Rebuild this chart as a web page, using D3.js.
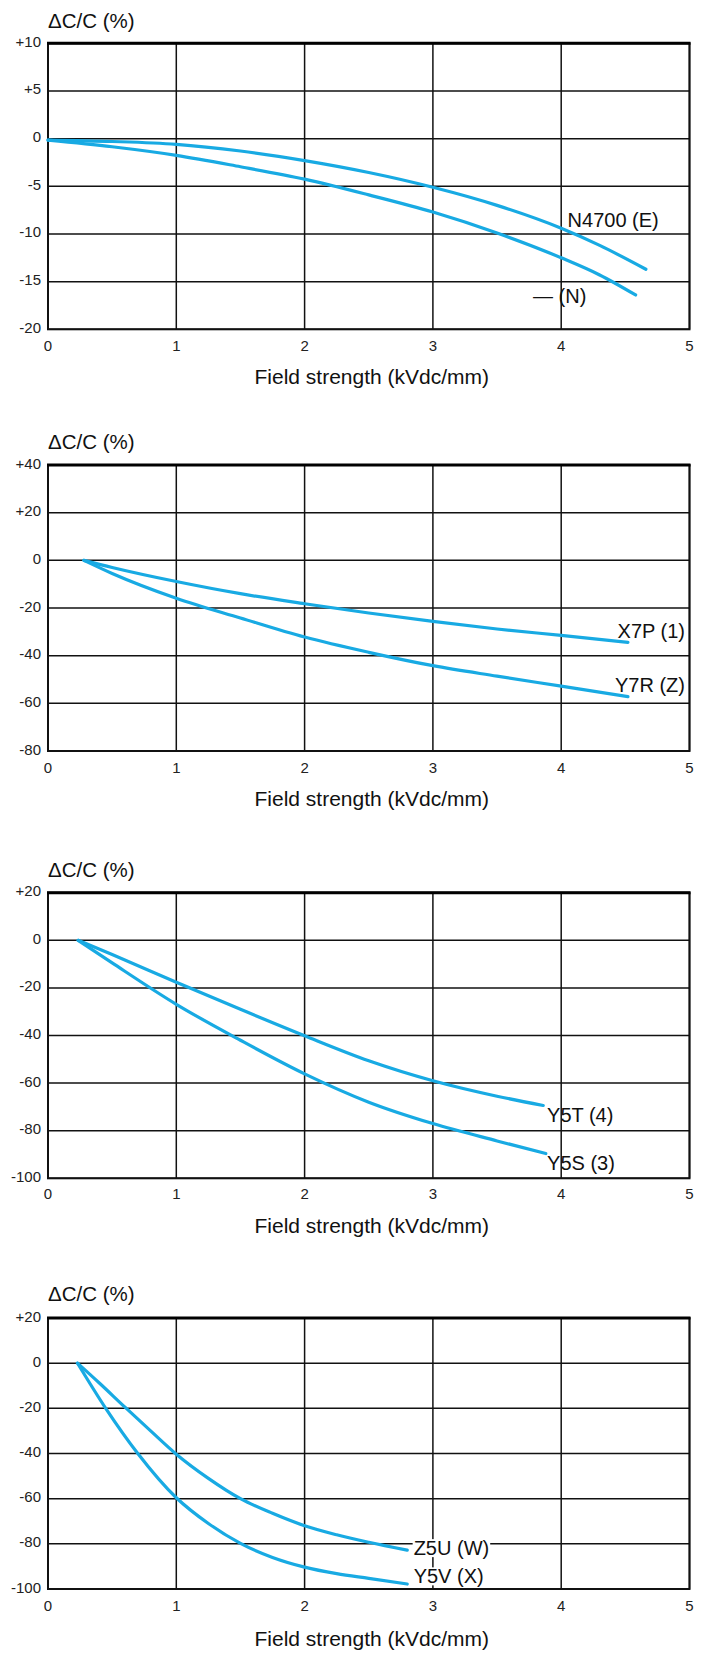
<!DOCTYPE html>
<html><head><meta charset="utf-8">
<script src="https://cdn.jsdelivr.net/npm/d3@7"></script>
<style>html,body{margin:0;padding:0;background:#fff;} svg{display:block;}</style>
</head><body>
<svg id="c" width="707" height="1658"></svg>
<script>
// ---------- data ----------
const xTicks = [0, 1, 2, 3, 4, 5];
const xTickLabels = ["0", "1", "2", "3", "4", "5"];
const yAxisTitle = "\u0394C/C (%)";
const xAxisTitle = "Field strength (kVdc/mm)";

// Chart 1
const c1YTicks = [10, 5, 0, -5, -10, -15, -20];
const c1YLabels = ["+10", "+5", "0", "-5", "-10", "-15", "-20"];
const c1E_x = [0, 0.5, 1, 1.5, 2, 2.5, 3, 3.5, 4, 4.3, 4.66];
const c1E_y = [-0.15, -0.3, -0.6, -1.3, -2.3, -3.55, -5.1, -7.0, -9.4, -11.2, -13.7];
const c1N_x = [0, 0.5, 1, 1.5, 2, 2.5, 3, 3.5, 4, 4.3, 4.58];
const c1N_y = [-0.15, -0.85, -1.75, -2.95, -4.25, -5.9, -7.7, -9.9, -12.5, -14.3, -16.4];

// Chart 2
const c2YTicks = [40, 20, 0, -20, -40, -60, -80];
const c2YLabels = ["+40", "+20", "0", "-20", "-40", "-60", "-80"];
const c2X7P_x = [0.28, 0.5, 1, 1.5, 2, 2.5, 3, 3.5, 4, 4.52];
const c2X7P_y = [0, -3.0, -8.9, -14, -18.2, -22.1, -25.6, -28.8, -31.5, -34.4];
const c2Y7R_x = [0.28, 0.5, 1, 1.5, 2, 2.5, 3, 3.5, 4, 4.52];
const c2Y7R_y = [0, -5.5, -15.9, -24.2, -32.2, -38.6, -44.2, -48.6, -52.8, -57.2];

// Chart 3
const c3YTicks = [20, 0, -20, -40, -60, -80, -100];
const c3YLabels = ["+20", "0", "-20", "-40", "-60", "-80", "-100"];
const c3Y5T_x = [0.235, 0.5, 1, 1.5, 2, 2.5, 3, 3.5, 3.86];
const c3Y5T_y = [0, -6, -17.6, -29, -40.1, -50.6, -59, -65.5, -69.4];
const c3Y5S_x = [0.235, 0.5, 1, 1.5, 2, 2.5, 3, 3.5, 3.88];
const c3Y5S_y = [0, -9.5, -26.9, -42, -56.1, -68, -77, -84.3, -89.6];

// Chart 4
const c4YTicks = [20, 0, -20, -40, -60, -80, -100];
const c4YLabels = ["+20", "0", "-20", "-40", "-60", "-80", "-100"];
const c4Z5U_x = [0.23, 0.4, 0.6, 0.8, 1, 1.25, 1.5, 1.75, 2, 2.25, 2.5, 2.8];
const c4Z5U_y = [0, -8.8, -19.5, -30, -40.3, -51, -60, -66.5, -72, -76, -79.3, -82.8];
const c4Y5V_x = [0.23, 0.45, 0.7, 1, 1.25, 1.5, 1.75, 2, 2.25, 2.5, 2.8];
const c4Y5V_y = [0, -20, -40, -59.6, -71, -79.8, -86, -90.3, -93.2, -95.3, -97.8];

// series labels: text and anchor point in data units
const c1Labels = [{t: "N4700 (E)", x: 4.05, y: -8.5, a: "start"}, {t: "\u2014 (N)", x: 3.78, y: -16.5, a: "start"}];
const c2Labels = [{t: "X7P (1)", x: 4.965, y: -29.5, a: "end"}, {t: "Y7R (Z)", x: 4.965, y: -52.5, a: "end"}];
const c3Labels = [{t: "Y5T (4)", x: 3.89, y: -73.3, a: "start"}, {t: "Y5S (3)", x: 3.89, y: -93.7, a: "start"}];
const c4Labels = [{t: "Z5U (W)", x: 2.85, y: -81.9, a: "start", bg: true}, {t: "Y5V (X)", x: 2.85, y: -94.4, a: "start", bg: true}];

// ---------- layout ----------
const FONT = "'Liberation Sans', Arial, sans-serif";
const CURVE = "#18aae3";
const L = 48, R = 689.5;
const charts = [
  {yTicks: c1YTicks, yLabels: c1YLabels, series: [[c1E_x, c1E_y], [c1N_x, c1N_y]], labels: c1Labels,
   top: 43.3, bottom: 329.3, yLab: 20, xLab: 345, title: 376.5},
  {yTicks: c2YTicks, yLabels: c2YLabels, series: [[c2X7P_x, c2X7P_y], [c2Y7R_x, c2Y7R_y]], labels: c2Labels,
   top: 465, bottom: 751, yLab: 441, xLab: 767, title: 798},
  {yTicks: c3YTicks, yLabels: c3YLabels, series: [[c3Y5T_x, c3Y5T_y], [c3Y5S_x, c3Y5S_y]], labels: c3Labels,
   top: 892.7, bottom: 1178.3, yLab: 869, xLab: 1193, title: 1225},
  {yTicks: c4YTicks, yLabels: c4YLabels, series: [[c4Z5U_x, c4Z5U_y], [c4Y5V_x, c4Y5V_y]], labels: c4Labels,
   top: 1318, bottom: 1589, yLab: 1293, xLab: 1605, title: 1638}
];

const svg = d3.select("#c");

charts.forEach(c => {
  const g = svg.append("g");
  const x = d3.scaleLinear().domain([0, 5]).range([L, R]);
  const y = d3.scaleLinear().domain([d3.min(c.yTicks), d3.max(c.yTicks)]).range([c.bottom, c.top]);

  // gridlines
  g.selectAll(".vg").data(xTicks).enter().append("line")
    .attr("x1", d => x(d)).attr("x2", d => x(d))
    .attr("y1", c.top).attr("y2", c.bottom)
    .attr("stroke", "#111").attr("stroke-width", 1.5);
  g.selectAll(".hg").data(c.yTicks).enter().append("line")
    .attr("x1", L).attr("x2", R)
    .attr("y1", d => y(d)).attr("y2", d => y(d))
    .attr("stroke", "#111").attr("stroke-width", 1.5);
  // frame
  g.append("rect").attr("x", L).attr("y", c.top).attr("width", R - L).attr("height", c.bottom - c.top)
    .attr("fill", "none").attr("stroke", "#111").attr("stroke-width", 2);
  g.append("line").attr("x1", L - 1).attr("x2", R + 1).attr("y1", c.top).attr("y2", c.top)
    .attr("stroke", "#000").attr("stroke-width", 3);

  // y tick labels
  g.selectAll(".yl").data(c.yTicks).enter().append("text")
    .attr("x", L - 7).attr("y", d => y(d) - 2)
    .attr("text-anchor", "end").attr("dominant-baseline", "central")
    .attr("font-family", FONT).attr("font-size", 15).attr("fill", "#222")
    .text((d, i) => c.yLabels[i]);
  // x tick labels
  g.selectAll(".xl").data(xTicks).enter().append("text")
    .attr("x", d => x(d)).attr("y", c.xLab)
    .attr("text-anchor", "middle").attr("dominant-baseline", "central")
    .attr("font-family", FONT).attr("font-size", 15).attr("fill", "#222")
    .text((d, i) => xTickLabels[i]);

  // axis titles
  g.append("text").attr("x", L).attr("y", c.yLab)
    .attr("dominant-baseline", "central")
    .attr("font-family", FONT).attr("font-size", 20.5).attr("fill", "#111")
    .text(yAxisTitle);
  g.append("text").attr("x", (L + R) / 2 + 3).attr("y", c.title)
    .attr("text-anchor", "middle").attr("dominant-baseline", "central")
    .attr("font-family", FONT).attr("font-size", 21).attr("fill", "#111")
    .text(xAxisTitle);

  // curves
  const line = d3.line().x(d => x(d[0])).y(d => y(d[1])).curve(d3.curveMonotoneX);
  c.series.forEach(s => {
    const pts = s[0].map((v, i) => [v, s[1][i]]);
    g.append("path").attr("d", line(pts))
      .attr("fill", "none").attr("stroke", CURVE).attr("stroke-width", 3.2)
      .attr("stroke-linecap", "round").attr("stroke-linejoin", "round");
  });

  // series labels
  c.labels.forEach(lb => {
    const t = g.append("text").attr("x", x(lb.x)).attr("y", y(lb.y))
      .attr("text-anchor", lb.a).attr("dominant-baseline", "central")
      .attr("font-family", FONT).attr("font-size", 20).attr("fill", "#111")
      .text(lb.t);
    if (lb.bg) {
      const bb = t.node().getBBox();
      g.insert("rect", () => t.node())
        .attr("x", bb.x - 1).attr("y", bb.y + 2).attr("width", bb.width + 2).attr("height", bb.height - 4)
        .attr("fill", "#fff");
    }
  });
});
</script>
</body></html>
